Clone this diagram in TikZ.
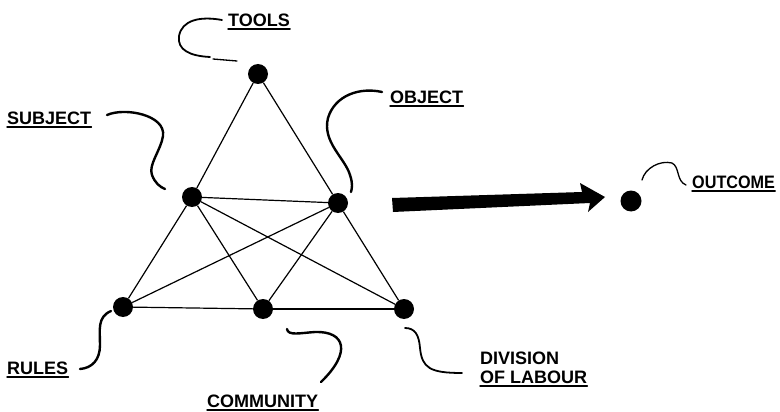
\documentclass[tikz,border=0pt]{standalone}
\usepackage{fontspec}
\setmainfont{Liberation Sans}
\begin{document}
\begin{tikzpicture}[x=1pt,y=-1pt,
  dot/.style={circle,fill=black,inner sep=0pt,minimum size=20pt},
  link/.style={line width=1.2pt},
  lbl/.style={font=\fontsize{18}{19}\selectfont\bfseries,inner sep=0pt,anchor=west},
  lead/.style={line width=2.4pt,line cap=round},
  leadthin/.style={line width=1.3pt,line cap=round},
  uline/.style={line width=1.4pt,line cap=round}]
\useasboundingbox (0,0) rectangle (780,412);

% activity system nodes
\node[dot] (tools) at (258,74) {};
\node[dot] (subject) at (192,197) {};
\node[dot] (object) at (338,203) {};
\node[dot] (rules) at (123,307) {};
\node[dot] (community) at (263,309) {};
\node[dot] (division) at (404,309) {};
\node[dot,minimum size=21pt] (outcome) at (631,201) {};

% triangle links
\draw[link] (tools) -- (subject);
\draw[link] (tools) -- (object);
\draw[link] (subject) -- (object);
\draw[link] (subject) -- (rules);
\draw[link] (subject) -- (community);
\draw[link] (subject) -- (division);
\draw[link] (object) -- (rules);
\draw[link] (object) -- (community);
\draw[link] (object) -- (division);
\draw[link] (rules) -- (community);
\draw[link] (community) -- (division);

% transformation arrow
\fill (392,198) -- (582,192) -- (580,183) -- (605,197) -- (588,212) -- (590,203) -- (393,212) -- cycle;

% labels
\node[lbl] (ltools) at (228,20) {TOOLS};
\node[lbl] (lsubject) at (7,118) {SUBJECT};
\node[lbl] (lobject) at (390,97) {OBJECT};
\node[lbl] (loutcome) at (692,182) {\scalebox{0.9}[1]{OUTCOME}};
\node[lbl] (lrules) at (7,368) {RULES};
\node[lbl] (lcommunity) at (207,401) {COMMUNITY};
\node[lbl] (ldiv) at (480,358) {DIVISION};
\node[lbl] (llab) at (480,377) {OF LABOUR};

% underlines
\foreach \n in {ltools,lsubject,lobject,loutcome,lrules,lcommunity,llab}
  \draw[uline] ([yshift=-3pt]\n.base west) -- ([yshift=-3pt]\n.base east);

% leader curves
\coordinate (t1) at (222,20);
\coordinate (t2) at (210,57);
\coordinate (t3) at (213,59);
\coordinate (t4) at (237,61);
\draw[leadthin,line width=1.8pt] (t1) .. controls (200,16) and (182,20) .. (179,36)
  .. controls (177,50) and (190,56) .. (t2);
\draw[leadthin] (t3) -- (t4);

\coordinate (s1) at (107,115);
\coordinate (s2) at (165,189);
\draw[lead] (s1) .. controls (125,107) and (166,115) .. (163,136)
  .. controls (161,150) and (148,165) .. (152,175)
  .. controls (155,183) and (160,187) .. (s2);

\coordinate (o1) at (382,92);
\coordinate (o2) at (351,192);
\draw[lead] (o1) .. controls (360,87) and (335,95) .. (328,118)
  .. controls (322,142) and (345,158) .. (350,175)
  .. controls (353,184) and (352,188) .. (o2);

\coordinate (u1) at (642,180);
\coordinate (u2) at (686,185);
\draw[leadthin] (u1) .. controls (645,168) and (660,160) .. (672,163)
  .. controls (680,167) and (676,181) .. (u2);

\coordinate (r1) at (80,369);
\coordinate (r2) at (111,311);
\draw[lead] (r1) .. controls (92,368) and (100,360) .. (100,345)
  .. controls (100,330) and (97,317) .. (r2);

\coordinate (c1) at (287,329);
\coordinate (c2) at (321,382);
\draw[lead] (c1) .. controls (288,336) and (300,333) .. (315,332)
  .. controls (345,331) and (352,352) .. (c2);

\coordinate (d1) at (405,328);
\coordinate (d2) at (462,373);
\draw[leadthin,line width=1.8pt] (d1) .. controls (415,328) and (419,335) .. (420,348)
  .. controls (422,368) and (430,373) .. (d2);
\end{tikzpicture}
\end{document}
